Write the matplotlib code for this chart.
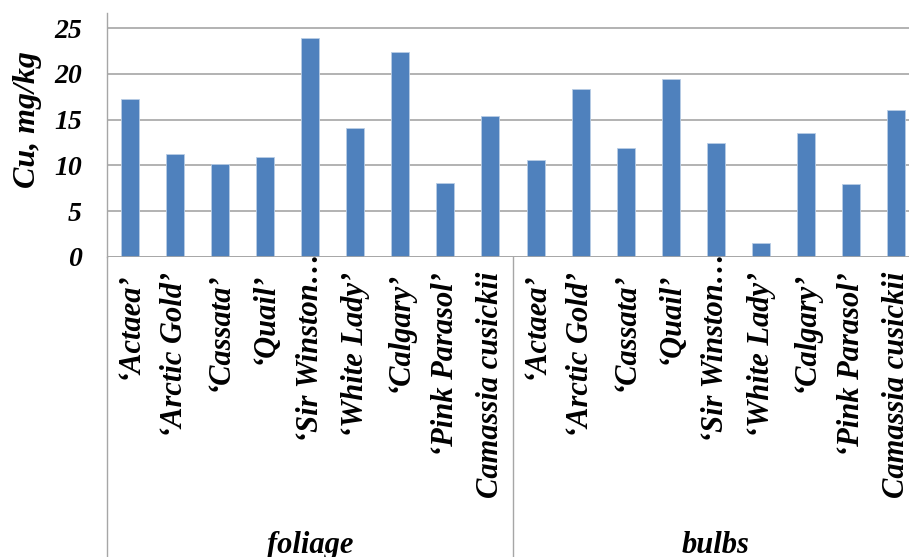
import matplotlib
matplotlib.use("Agg")
import matplotlib.pyplot as plt
from matplotlib.transforms import blended_transform_factory
from matplotlib.lines import Line2D

cultivars = ["\u2018Actaea\u2019", "\u2018Arctic Gold\u2019", "\u2018Cassata\u2019", "\u2018Quail\u2019",
             "\u2018Sir Winston\u2026", "\u2018White Lady\u2019", "\u2018Calgary\u2019",
             "\u2018Pink Parasol\u2019", "Camassia cusickii"]
groups = ["foliage", "bulbs"]
foliage = [17.2, 11.2, 10.1, 10.9, 23.9, 14.1, 22.4, 8.1, 15.4]
bulbs = [10.6, 18.3, 11.9, 19.4, 12.4, 1.5, 13.5, 8.0, 16.0]
yticks = [0, 5, 10, 15, 20, 25]

plt.rcParams['font.family'] = ['Liberation Serif', 'DejaVu Serif']
W, H = 909, 557
fig = plt.figure(figsize=(W / 100, H / 100), dpi=100)
ax = fig.add_axes([107 / W, (H - 257) / H, (919 - 107) / W, (257 - 13) / H])

values = foliage + bulbs
labels = cultivars + cultivars
x = list(range(len(values)))
ax.bar(x, values, width=0.4, color='#4F81BD', edgecolor='#B9CDE5', linewidth=0.6, zorder=3)
ax.set_xlim(-0.5, len(values) - 0.5)
ax.set_ylim(0, 25 * 244 / 229)
ax.set_yticks(yticks)
ax.set_yticklabels([str(t) for t in yticks], fontsize=20, fontweight='bold', fontstyle='italic')
ax.tick_params(axis='y', length=0, pad=18)
ax.tick_params(axis='x', length=0, labelbottom=False)
ax.grid(axis='y', color='#A6A6A6', linewidth=1.2, zorder=0)
for s in ['top', 'right', 'bottom']:
    ax.spines[s].set_visible(False)
ax.spines['left'].set_color('#A6A6A6')
ax.spines['left'].set_linewidth(1.0)
ax.axhline(0, color='#A6A6A6', linewidth=1.2, zorder=4)

fig.text(27 / W, 1 - 120 / H, "Cu, mg/kg", rotation=90, ha='center', va='center',
         fontsize=23, fontweight='bold', fontstyle='italic')

trans = blended_transform_factory(ax.transData, fig.transFigure)
for xi, lab in zip(x, labels):
    top = 272 if not lab.endswith("\u2026") else 253
    ax.text(xi, 1 - top / H, lab, transform=trans, rotation=90, ha='center', va='top',
            fontsize=22, fontweight='bold', fontstyle='italic', clip_on=False)

n = len(cultivars)
for gi, g in enumerate(groups):
    cx = gi * n + (n - 1) / 2
    ax.text(cx, 1 - 531 / H, g, transform=trans, ha='center', va='top',
            fontsize=22, fontweight='bold', fontstyle='italic', clip_on=False)

for bx in [-0.5, n - 0.5, 2 * n - 0.5]:
    ax.add_line(Line2D([bx, bx], [0, 1 - 257 / H], transform=trans, color='#A6A6A6',
                       linewidth=1.0, clip_on=False))

fig.savefig("out.png", dpi=100)
